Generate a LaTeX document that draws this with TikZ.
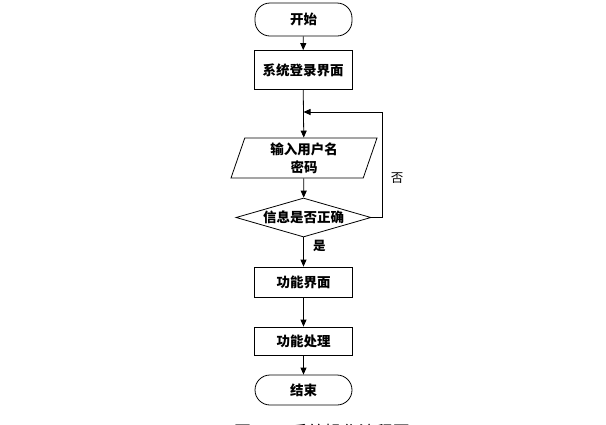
\documentclass[tikz,border=0pt]{standalone}
\usepackage{fontspec}
\setmainfont{Liberation Serif}
\newfontfamily\cjk{Noto Sans CJK SC}
\usetikzlibrary{shapes.geometric}
\usetikzlibrary{arrows.meta}

\begin{document}
\begin{tikzpicture}[x=1pt, y=-1pt,
    box/.style={draw, line width=0.8pt, inner sep=0pt,
      font=\cjk\bfseries\fontsize{13.5}{18}\selectfont},
    terminal/.style={box, rounded corners=15pt, minimum width=97pt},
    process/.style={box, minimum width=98pt},
    inputbox/.style={box, trapezium, trapezium left angle=66,
      trapezium right angle=114, trapezium stretches body,
      minimum width=146pt, minimum height=40pt, align=center},
    decision/.style={box, diamond, aspect=3.5,
      minimum width=135pt, minimum height=39pt},
    flow/.style={line width=0.8pt, -{Triangle[length=7pt,width=6pt]}},
    sidelabel/.style={font=\cjk\fontsize{12.5}{15}\selectfont}]
    \clip (0,0) rectangle (606,424);

    \node[terminal, minimum height=33pt] (start) at (303.5,19.5) {开始};
    \node[process, minimum height=39pt] (login) at (303,70) {系统登录界面};
    \node[inputbox] (input) at (304,158) {输入用户名\\密码};
    \node[decision] (check) at (303.5,217.5) {信息是否正确};
    \node[process, minimum height=30pt] (func) at (303.5,282) {功能界面};
    \node[process, minimum height=28pt] (proc) at (303.5,341) {功能处理};
    \node[terminal, minimum height=30pt] (stop) at (303.5,390) {结束};
    \coordinate (back) at (303.5,112);
    \coordinate (turn) at (382,217.5);

    \draw[flow] (start) -- (login);
    \draw[flow] (login) -- (input);
    \draw[flow] (input) -- (check);
    \draw[flow] (check) -- node[sidelabel, right, pos=0.3, xshift=6pt,
      font=\cjk\bfseries\fontsize{12.5}{15}\selectfont] {是} (func);
    \draw[flow] (func) -- (proc);
    \draw[flow] (proc) -- (stop);
    \draw[flow] (check.east) -- (turn) |- (back);
    \node[sidelabel] (no) at (397,178) {否};

    % caption, cut by the page edge
    \node[font=\cjk\fontsize{17}{20}\selectfont] (caption) at (322,432)
      {图\hspace{40pt}系统操作流程图};
\end{tikzpicture}
\end{document}
